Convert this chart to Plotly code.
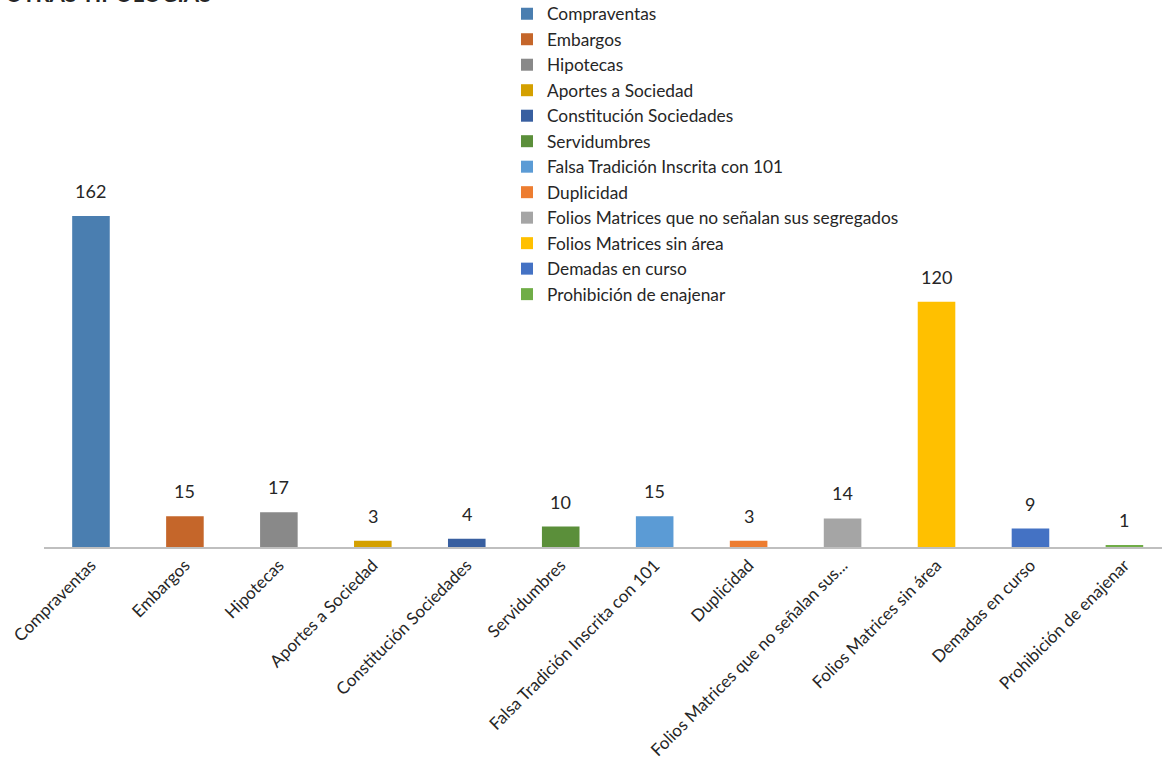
import plotly.graph_objects as go

categories = [
    'Compraventas', 'Embargos', 'Hipotecas', 'Aportes a Sociedad',
    'Constitución Sociedades', 'Servidumbres', 'Falsa Tradición Inscrita con 101',
    'Duplicidad', 'Folios Matrices que no señalan sus segregados',
    'Folios Matrices sin área', 'Demadas en curso', 'Prohibición de enajenar'
]
values = [162, 15, 17, 3, 4, 10, 15, 3, 14, 120, 9, 1]
colors = [
    '#4A7EB0', '#C5662A', '#898989', '#D4A000', '#385FA0', '#5B8F3A',
    '#5B9BD5', '#ED7D31', '#A5A5A5', '#FFC000', '#4472C4', '#70AD47'
]

# Excel cuts long category labels on the axis
tick_labels = [c if len(c) <= 32 else c[:34].rstrip() + '...' for c in categories]

W, H = 1162, 759
L, T, B = 44, 0, 212
plot_w = W - L
plot_h = H - T - B

fig = go.Figure()
for cat, val, col in zip(categories, values, colors):
    fig.add_trace(go.Bar(
        x=[cat], y=[val], name=cat, marker=dict(color=col, line=dict(width=0)),
        width=0.4
    ))

for cat, val in zip(categories, values):
    fig.add_annotation(
        x=cat, y=val, text=str(val), showarrow=False,
        yanchor='bottom', yshift=12, font=dict(size=18, color='#262626')
    )

# chart title, cut off at the top of the original image
fig.add_annotation(
    xref='paper', yref='paper', x=(213 - L) / plot_w, y=1.0, yshift=-9,
    xanchor='right', yanchor='bottom', text='<b>OTRAS TIPOLOGIAS</b>',
    showarrow=False, font=dict(size=22, color='#262626')
)

fig.update_layout(
    width=W, height=H,
    barmode='overlay',
    font=dict(family='Lato, Carlito, sans-serif', size=16, color='#262626'),
    plot_bgcolor='white', paper_bgcolor='white',
    margin=dict(l=L, r=0, t=T, b=B, autoexpand=False),
    legend=dict(
        x=(507 - L) / plot_w, y=1 + 4 / plot_h,
        xanchor='left', yanchor='top', font=dict(size=17.3),
        bgcolor='rgba(0,0,0,0)', tracegroupgap=0
    ),
    xaxis=dict(
        type='category', range=[-0.5, 11.4], tickangle=-45,
        tickvals=categories, ticktext=tick_labels,
        showline=True, linecolor='#BFBFBF', linewidth=1.5,
        ticks='', showgrid=False, tickfont=dict(size=17, color='#262626')
    ),
    yaxis=dict(
        range=[0, plot_h / 2.043], visible=False, showgrid=False, zeroline=False
    ),
    showlegend=True,
)

# drop the default body margin so the figure fills the window
fig.write_html('out.html', config={'displayModeBar': False},
               post_script="document.body.style.margin='0';")
